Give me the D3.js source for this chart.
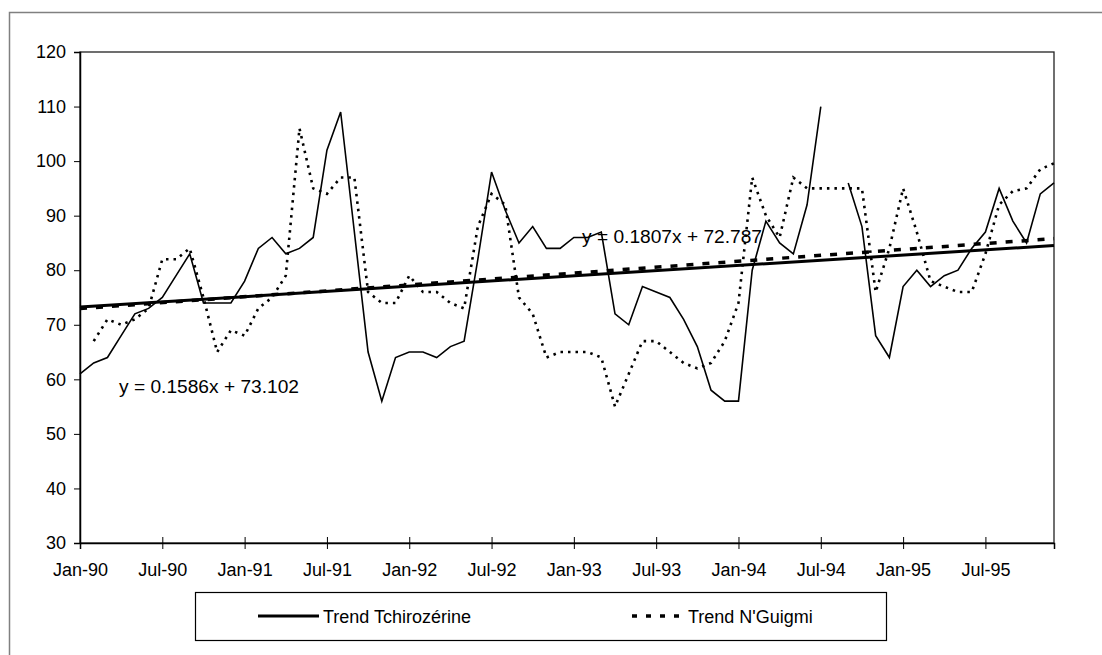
<!DOCTYPE html>
<html><head><meta charset="utf-8">
<script src="https://cdn.jsdelivr.net/npm/d3@7"></script>
<style>
html,body{margin:0;padding:0;background:#fff;}
svg{display:block;font-family:Arial,"Liberation Sans",sans-serif;}
</style></head>
<body><svg id="c" width="1102" height="655"></svg>
<script>
// month index 0 = Jan-90 ... 71 = Dec-95
const tickLabels = ["Jan-90","Jul-90","Jan-91","Jul-91","Jan-92","Jul-92","Jan-93","Jul-93","Jan-94","Jul-94","Jan-95","Jul-95"];
const tickMonths = [0,6,12,18,24,30,36,42,48,54,60,66];
const yTicks = [30,40,50,60,70,80,90,100,110,120];
const tchirozerine = [61,63,64,68,72,73,75,79,83,74,74,74,78,84,86,83,84,86,102,109,87,65,56,64,65,65,64,66,67,82,98,91,85,88,84,84,86,86,87,72,70,77,76,75,71,66,58,56,56,80,89,85,83,92,110,null,96,88,68,64,77,80,77,79,80,84,87,95,89,85,94,96];
const nguigmi = [null,67,71,70,71,73,82,82,84,75,65,69,68,73,75,79,106,95,94,97,97,76,74,74,79,76,76,74,73,88,94,92,75,72,64,65,65,65,64,55,61,67,67,65,63,62,63,67,74,97,90,86,97,95,95,95,95,95,76,84,95,87,78,77,76,76,83,92,94.5,95,98.5,99.6];
const trendNames = ["Trend Tchirozérine","Trend N'Guigmi"];
const trendSlopes = [0.1586, 0.1807];
const trendIntercepts = [73.102, 72.787];
const equationTexts = ["y = 0.1586x + 73.102","y = 0.1807x + 72.787"];

const svg = d3.select("#c");
const W = 1102, H = 655;
const pL = 80, pR = 1054, pT = 52, pB = 543;
const x = d3.scaleLinear().domain([0, 71]).range([pL, pR]);
const y = d3.scaleLinear().domain([30, 120]).range([pB, pT]);

svg.append("rect").attr("width", W).attr("height", H).attr("fill", "#fff");
// outer chart frame
svg.append("rect").attr("x", 9.5).attr("y", 12.5).attr("width", 1110).attr("height", 700)
  .attr("fill", "none").attr("stroke", "#808080").attr("stroke-width", 1.5);
// plot area
svg.append("rect").attr("x", pL).attr("y", pT).attr("width", pR - pL).attr("height", pB - pT)
  .attr("fill", "none").attr("stroke", "#222").attr("stroke-width", 1.3);

// y axis
const yAxis = svg.append("g").attr("transform", `translate(${pL},0)`)
  .call(d3.axisLeft(y).tickValues(yTicks).tickSize(6).tickPadding(8));
// x axis
const xAxis = svg.append("g").attr("transform", `translate(0,${pB})`)
  .call(d3.axisBottom(x).tickValues(tickMonths).tickFormat((d, i) => tickLabels[i]).tickSize(6).tickPadding(14));
xAxis.selectAll(".tick line").attr("y1", -6).attr("y2", 6);
[yAxis, xAxis].forEach(a => {
  a.select(".domain").attr("stroke", "#000").attr("stroke-width", 1.5);
  a.selectAll(".tick line").attr("stroke", "#000").attr("stroke-width", 1);
  a.selectAll("text").attr("font-size", 18).attr("fill", "#000").attr("font-family", "Arial, 'Liberation Sans', sans-serif");
});

const line = d3.line().defined(d => d != null).x((d, i) => x(i)).y(d => y(d));

// data series
svg.append("path").datum(tchirozerine).attr("d", line)
  .attr("fill", "none").attr("stroke", "#000").attr("stroke-width", 1.6).attr("stroke-linejoin", "miter");
svg.append("path").datum(nguigmi).attr("d", line)
  .attr("fill", "none").attr("stroke", "#000").attr("stroke-width", 2.6).attr("stroke-dasharray", "2.5,5");

// trend lines (x = month index + 1)
const months = d3.range(72);
const trendStyles = [{w: 3, dash: null}, {w: 3.5, dash: "7,9"}];
trendSlopes.forEach((s, k) => {
  const vals = [months[0], months[months.length - 1]].map(m => ({m, v: s * (m + 1) + trendIntercepts[k]}));
  const p = svg.append("path").datum(vals)
    .attr("d", d3.line().x(d => x(d.m)).y(d => y(d.v)))
    .attr("fill", "none").attr("stroke", "#000").attr("stroke-width", trendStyles[k].w);
  if (trendStyles[k].dash) p.attr("stroke-dasharray", trendStyles[k].dash);
});

// equation labels
const eqPos = [[119, 393], [582, 243]];
equationTexts.forEach((t, k) => {
  svg.append("text").attr("x", eqPos[k][0]).attr("y", eqPos[k][1])
    .attr("font-size", 18).attr("fill", "#000")
    .attr("textLength", 180).attr("lengthAdjust", "spacingAndGlyphs").text(t);
});

// legend
const lg = svg.append("g");
lg.append("rect").attr("x", 195.5).attr("y", 592.5).attr("width", 691).attr("height", 48)
  .attr("fill", "#fff").attr("stroke", "#000").attr("stroke-width", 1.2);
const legendItems = [{x1: 258, x2: 319, tx: 323, dash: null, w: 3}, {x1: 632, x2: 684, tx: 688, dash: "5,9", w: 3.5}];
legendItems.forEach((it, k) => {
  const l = lg.append("line").attr("x1", it.x1).attr("x2", it.x2).attr("y1", 616).attr("y2", 616)
    .attr("stroke", "#000").attr("stroke-width", it.w);
  if (it.dash) l.attr("stroke-dasharray", it.dash);
  lg.append("text").attr("x", it.tx).attr("y", 622.5).attr("font-size", 18).attr("fill", "#000").text(trendNames[k]);
});
</script></body></html>
